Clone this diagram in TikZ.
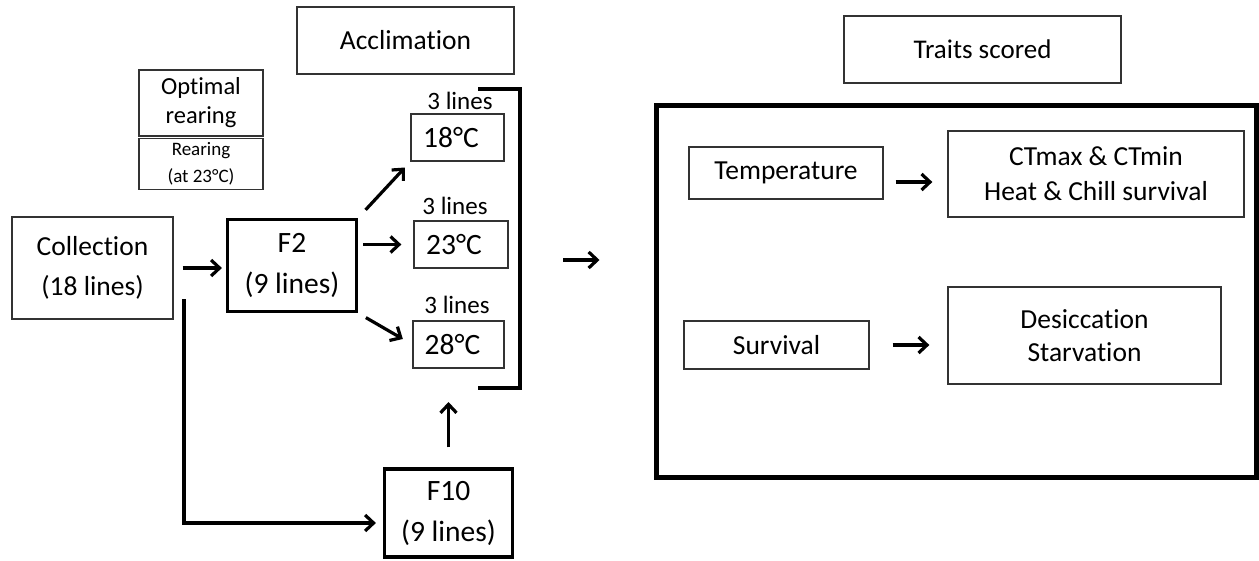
\documentclass[tikz,border=0pt]{standalone}
\usepackage{fontspec}
\setmainfont{Carlito}[Ligatures=CommonOff]
\usetikzlibrary{arrows.meta}
\newcommand\fsz[2]{\fontsize{#1}{#2}\selectfont}
\tikzset{
  tbox/.style={draw=black!80, line width=1.3pt, inner sep=0pt, align=center},
  gbox/.style={draw=black, line width=3.2pt, inner sep=0pt, align=center, font=\fsz{29.5}{41}},
  conn/.style={-{Straight Barb[length=8.5pt,width=16pt]}, line width=3.2pt},
  lbl/.style={inner sep=0pt, font=\fsz{25}{30}}
}
\begin{document}
\begin{tikzpicture}[x=1pt,y=-1pt]
\useasboundingbox (0,0) rectangle (1259,560);

% left part
\node[tbox, minimum width=217pt, minimum height=67pt, font=\fsz{27.5}{33}] (accl) at (405.5,40.5) {Acclimation};
\node[tbox, minimum width=124pt, minimum height=66pt, font=\fsz{24.5}{29}] (opt) at (201,103) {Optimal\\rearing};
\node[tbox, minimum width=124pt, minimum height=51pt, font=\fsz{19}{27}] (rear) at (201,164) {Rearing\\(at 23°C)};
\node[tbox, minimum width=161pt, minimum height=102pt, font=\fsz{27.5}{40}] (coll) at (92.5,268) {Collection\\(18 lines)};
\node[gbox, minimum width=129pt, minimum height=92pt] (f2) at (292,265.5) {F2\\(9 lines)};
\node[gbox, minimum width=128pt, minimum height=88pt] (f10) at (448.5,513) {F10\\(9 lines)};

\node[tbox, minimum width=93pt, minimum height=47pt, font=\fsz{29.5}{35}] (t18) at (457.5,137.5) {18°C\hspace{13pt}};
\node[tbox, minimum width=94pt, minimum height=47pt, font=\fsz{29.5}{35}] (t23) at (461,244.5) {23°C\hspace{14pt}};
\node[tbox, minimum width=91pt, minimum height=47pt, font=\fsz{29.5}{35}] (t28) at (458.5,344.5) {28°C\hspace{12pt}};
\node[lbl] (l18) at (460,101) {3 lines};
\node[lbl] (l23) at (455,206) {3 lines};
\node[lbl] (l28) at (457,305) {3 lines};

% bracket
\coordinate (bt0) at (478,89);
\coordinate (bt1) at (520,89);
\coordinate (bb1) at (520,388);
\coordinate (bb0) at (478,388);
\coordinate (bm) at (520,260);
\draw[line width=3.2pt] (bt0) -- (bt1) -- (bb1) -- (bb0);

% right part
\node[tbox, minimum width=277pt, minimum height=67pt, font=\fsz{27}{33}] (traits) at (982.5,49.5) {Traits scored};
\node[draw=black, line width=5pt, minimum width=600pt, minimum height=372pt, inner sep=0pt] (big) at (956,291) {};
\node[tbox, minimum width=194pt, minimum height=52pt, font=\fsz{27.5}{33}] (temp) at (786,173) {Temperature};
\node[tbox, minimum width=296pt, minimum height=86pt, font=\fsz{27.5}{35}] (ct) at (1096,174) {CTmax \& CTmin\\Heat \& Chill survival};
\node[tbox, minimum width=185pt, minimum height=48pt, font=\fsz{27.5}{33}] (surv) at (776.5,345) {Survival};
\node[tbox, minimum width=273pt, minimum height=97pt, font=\fsz{27.5}{33}] (des) at (1084.5,335.5) {Desiccation\\Starvation};

% connectors
\coordinate (split) at (184,299);
\draw[conn, shorten <=9pt, shorten >=4pt] (coll.east) -- (coll.east -| f2.west);
\draw[conn, shorten >=7pt] (split) |- ([yshift=-10pt]f10.west);
\draw[conn, shorten <=11pt, shorten >=8pt] (f2.north east) -- (t18.south west);
\draw[conn, shorten <=5pt, shorten >=12pt] (f2.east |- t23.west) -- (t23.west);
\draw[conn, shorten <=9pt, shorten >=11pt] (f2.south east) -- (t28.west);
\draw[conn, shorten <=20pt, shorten >=14pt] (f10.north) -- (f10.north |- bb0);
\draw[conn, shorten <=43pt, shorten >=54pt] (bm) -- (bm -| big.west);
\draw[conn, shorten <=12pt, shorten >=15pt] ([yshift=-9pt]temp.east) -- ([yshift=-9pt]temp.east -| ct.west);
\draw[conn, shorten <=23pt, shorten >=18pt] (surv.east) -- (surv.east -| des.west);
\end{tikzpicture}
\end{document}
